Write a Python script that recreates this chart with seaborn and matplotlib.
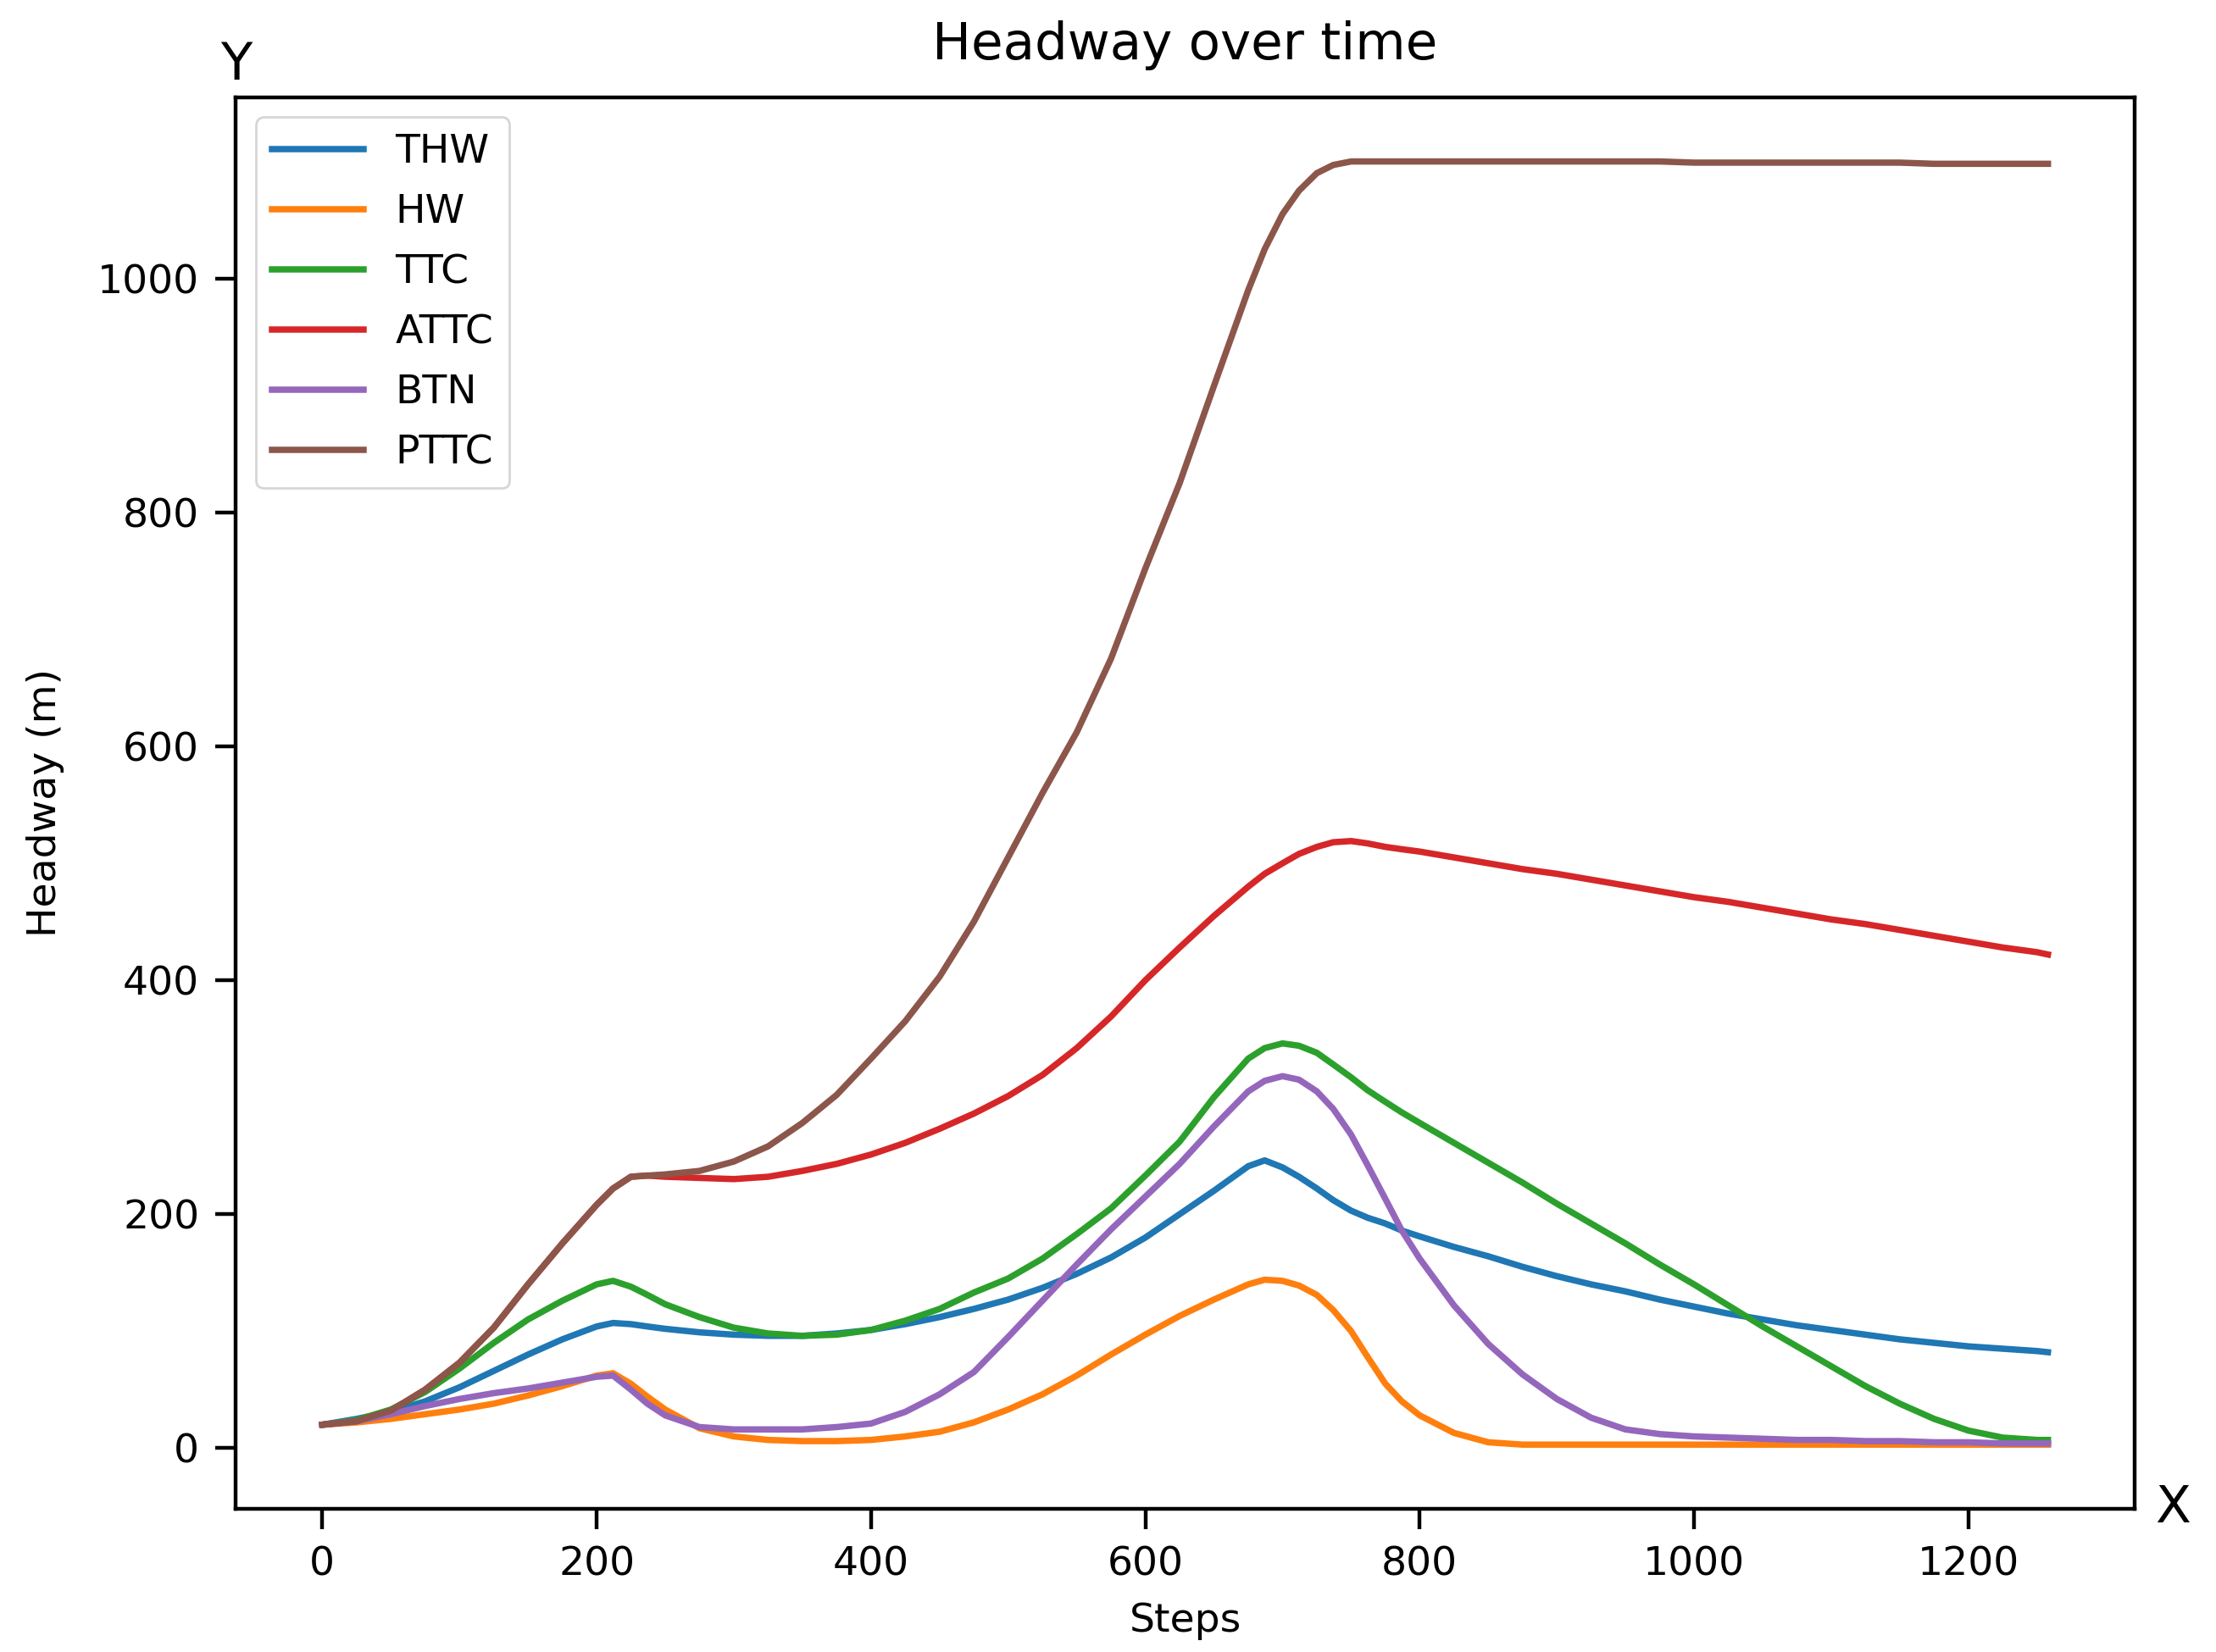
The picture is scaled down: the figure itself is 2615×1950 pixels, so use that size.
import matplotlib
matplotlib.use('Agg')
import matplotlib.pyplot as plt
import seaborn as sns

# ------------------------------------------------------------
# Data (headway metrics per step)
# ------------------------------------------------------------
steps = [0, 25, 50, 75, 100, 125, 150, 175, 200, 212,
         225, 237, 250, 275, 300, 325, 350, 375, 400, 425,
         450, 475, 500, 525, 550, 575, 600, 625, 650, 675,
         687, 700, 712, 725, 737, 750, 762, 775, 787, 800,
         825, 850, 875, 900, 925, 950, 975, 1000, 1025, 1050,
         1075, 1100, 1125, 1150, 1175, 1200, 1225, 1250, 1258]

thw = [20, 25, 31, 40, 52, 66, 80, 93, 104, 107,
       106, 104, 102, 99, 97, 96, 96, 98, 101, 106,
       112, 119, 127, 137, 149, 163, 180, 200, 220, 241,
       246, 240, 232, 222, 212, 203, 197, 192, 186, 181,
       172, 164, 155, 147, 140, 134, 127, 121, 115, 110,
       105, 101, 97, 93, 90, 87, 85, 83, 82]

hw = [20, 22, 25, 29, 33, 38, 45, 53, 62, 64,
      55, 44, 33, 17, 10, 7, 6, 6, 7, 10,
      14, 22, 33, 46, 62, 80, 97, 113, 127, 140,
      144, 143, 139, 131, 118, 100, 78, 55, 40, 28,
      13, 5, 3, 3, 3, 3, 3, 3, 3, 3,
      3, 3, 3, 3, 3, 3, 3, 3, 3]

ttc = [20, 24, 33, 48, 68, 90, 110, 126, 140, 143,
       138, 131, 123, 112, 103, 98, 96, 97, 101, 109,
       119, 133, 145, 162, 183, 205, 233, 262, 300, 333,
       342, 346, 344, 338, 328, 317, 306, 296, 287, 278,
       261, 244, 227, 209, 192, 175, 157, 140, 122, 104,
       87, 70, 53, 38, 25, 15, 9, 7, 7]

attc = [20, 23, 32, 50, 73, 103, 140, 175, 208, 222,
        232, 233, 232, 231, 230, 232, 237, 243, 251, 261,
        273, 286, 301, 319, 342, 369, 400, 428, 455, 480,
        491, 500, 508, 514, 518, 519, 517, 514, 512, 510,
        505, 500, 495, 491, 486, 481, 476, 471, 467, 462,
        457, 452, 448, 443, 438, 433, 428, 424, 422]

btn = [20, 23, 29, 36, 42, 47, 51, 56, 61, 62,
       50, 38, 28, 18, 16, 16, 16, 18, 21, 31,
       46, 65, 95, 126, 157, 187, 215, 243, 275, 305,
       314, 318, 315, 305, 290, 268, 242, 213, 186, 162,
       122, 89, 63, 42, 26, 16, 12, 10, 9, 8,
       7, 7, 6, 6, 5, 5, 4, 4, 4]

pttc = [20, 23, 32, 50, 73, 103, 140, 175, 208, 222,
        232, 233, 234, 237, 245, 258, 278, 302, 333, 365,
        403, 450, 505, 560, 612, 675, 752, 825, 908, 990,
        1025, 1055, 1075, 1090, 1097, 1100, 1100, 1100, 1100, 1100,
        1100, 1100, 1100, 1100, 1100, 1100, 1100, 1099, 1099, 1099,
        1099, 1099, 1099, 1099, 1098, 1098, 1098, 1098, 1098]

names = ['THW', 'HW', 'TTC', 'ATTC', 'BTN', 'PTTC']
series = [thw, hw, ttc, attc, btn, pttc]
colors = ['#1f77b4', '#ff7f0e', '#2ca02c', '#d62728', '#9467bd', '#8c564b']

# ------------------------------------------------------------
# Plot
# ------------------------------------------------------------
FS = 17
fig = plt.figure(figsize=(13.075, 9.75), dpi=200)
ax = fig.add_axes([0.1065, 0.0867, 0.8566, 0.8544])

for name, vals, col in zip(names, series, colors):
    sns.lineplot(x=steps, y=vals, label=name, color=col,
                 linewidth=2.7, estimator=None, ax=ax)

ax.set_title('Headway over time', fontsize=22, pad=16)
ax.set_xlabel('Steps', fontsize=FS)
ax.set_ylabel('Headway (m)', fontsize=FS)
ax.xaxis.set_label_coords(0.5, -0.066)
ax.yaxis.set_label_coords(-0.0904, 0.5)

ax.tick_params(labelsize=FS, length=8.6, width=1.6, pad=7)
for s in ax.spines.values():
    s.set_linewidth(1.6)
    s.set_edgecolor('black')

# axis letters at the ends of the axes
ax.text(0, 1.0125, 'Y', transform=ax.transAxes, ha='center',
        va='baseline', fontsize=22)
ax.text(1.011, 0, 'X', transform=ax.transAxes, ha='left',
        va='center', fontsize=22)

ax.legend(loc='upper left', fontsize=FS, labelspacing=0.55,
          handlelength=2.28, handletextpad=0.8, borderpad=0.4)

fig.savefig('out.png', dpi=200)
